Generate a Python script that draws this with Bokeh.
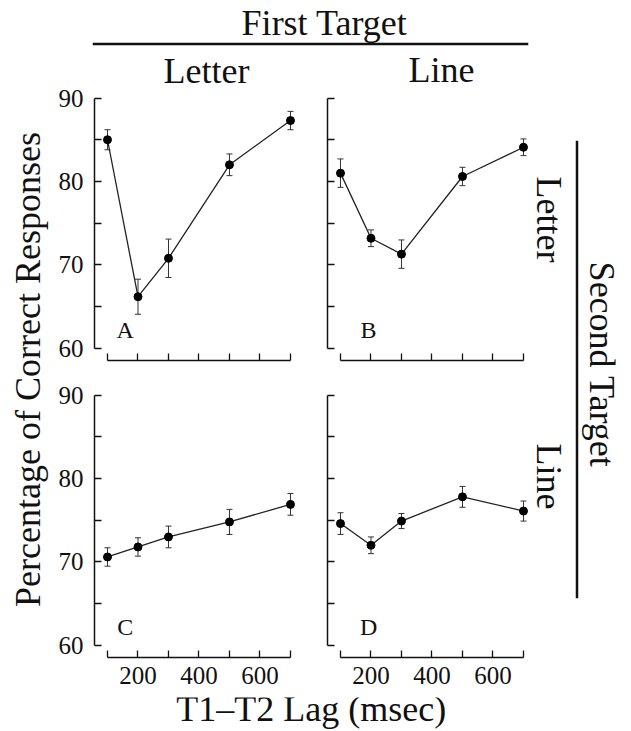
import math
from bokeh.plotting import figure
from bokeh.models import (ColumnDataSource, Whisker, TeeHead, FixedTicker,
                          Range1d, Label, Span, LinearAxis)
from bokeh.layouts import row, column
from bokeh.embed import file_html
from bokeh.resources import INLINE

# ---------------- data ----------------
lags = [100, 200, 300, 500, 700]

# Panel A: first target Letter, second target Letter
a_mean = [85.0, 66.2, 70.8, 82.0, 87.3]
a_err = [1.2, 2.1, 2.3, 1.3, 1.1]
# Panel B: first target Line, second target Letter
b_mean = [81.0, 73.2, 71.3, 80.6, 84.1]
b_err = [1.7, 1.0, 1.7, 1.1, 1.0]
# Panel C: first target Letter, second target Line
c_mean = [70.6, 71.8, 73.0, 74.8, 76.9]
c_err = [1.1, 1.1, 1.3, 1.5, 1.3]
# Panel D: first target Line, second target Line
d_mean = [74.6, 72.0, 74.9, 77.8, 76.1]
d_err = [1.3, 1.0, 0.9, 1.25, 1.2]

y_ticks = [60, 65, 70, 75, 80, 85, 90]
y_tick_labels = {60: "60", 70: "70", 80: "80", 90: "90"}
x_ticks = [100, 200, 300, 400, 500, 600, 700]
x_tick_labels = {200: "200", 400: "400", 600: "600"}

title_top = "First Target"
col_titles = ["Letter", "Line"]
title_right = "Second Target"
row_titles = ["Letter", "Line"]
y_title = "Percentage of Correct Responses"
x_title = "T1\u2013T2 Lag (msec)"
panel_letters = ["A", "B", "C", "D"]

# ---------------- style / layout ----------------
FONT = "Liberation Serif"
INK = "#111111"
BIG = 36
TICK = "25px"
XR = (57.4, 726.3)
YR = (58.56, 90.3)
SHIFT = 0.34  # distance (em) from text middle to baseline


def blank(w, h, xr, yr, bl=0, br=0, bt=0, bb=0):
    p = figure(width=w, height=h, x_range=Range1d(*xr), y_range=Range1d(*yr),
               output_backend="svg", toolbar_location=None,
               x_axis_location=None, y_axis_location=None,
               min_border_left=bl, min_border_right=br,
               min_border_top=bt, min_border_bottom=bb)
    p.xgrid.visible = False
    p.ygrid.visible = False
    p.outline_line_color = None
    p.background_fill_color = "white"
    p.border_fill_color = "white"
    return p


def text(p, x, y, s, fs=BIG, angle=0.0):
    # x, y = baseline position in page pixels (y downward); ranges use -y upward
    d = SHIFT * fs
    if angle == 0:
        y = y - d
    elif angle > 0:
        x = x - d
    else:
        x = x + d
    p.add_layout(Label(x=x, y=-y, text=s, angle=angle, text_align="center",
                       text_baseline="middle", text_font=FONT,
                       text_font_size=f"{fs}px", text_color=INK))


def style_axis(ax, ticks, labels, show, standoff):
    ax.ticker = FixedTicker(ticks=ticks, minor_ticks=[])
    ax.major_label_overrides = {t: (labels.get(t, "") if show else "") for t in ticks}
    ax.major_tick_in = 7
    ax.major_tick_out = 0
    ax.minor_tick_in = 0
    ax.minor_tick_out = 0
    ax.axis_line_width = 1.5
    ax.axis_line_color = INK
    ax.major_tick_line_width = 1.3
    ax.major_tick_line_color = INK
    ax.major_label_text_font = FONT
    ax.major_label_text_color = INK
    if show:
        ax.major_label_text_font_size = TICK
        ax.major_label_standoff = standoff
    else:
        ax.major_label_text_font_size = "1px"
        ax.major_label_standoff = 0


def panel(mean, err, letter, letter_x, show_y, show_x, w, h, bl, bt, bb):
    p = figure(width=w, height=h, x_range=Range1d(*XR), y_range=Range1d(*YR),
               output_backend="svg", toolbar_location=None,
               min_border_left=bl, min_border_right=0,
               min_border_top=bt, min_border_bottom=bb)
    p.grid.visible = False
    p.outline_line_color = None
    src = ColumnDataSource(dict(
        lag=lags, mean=mean,
        upper=[m + e for m, e in zip(mean, err)],
        lower=[m - e for m, e in zip(mean, err)]))
    p.add_layout(Whisker(source=src, base="lag", upper="upper", lower="lower",
                         line_color="#333333", line_width=1,
                         upper_head=TeeHead(size=6, line_color="#333333", line_width=1),
                         lower_head=TeeHead(size=6, line_color="#333333", line_width=1)))
    p.line("lag", "mean", source=src, line_color="#222222", line_width=1.3)
    p.scatter("lag", "mean", source=src, marker="circle", size=8,
              fill_color="black", line_color="black")
    style_axis(p.yaxis[0], y_ticks, y_tick_labels, show_y, 11)
    p.yaxis.bounds = (60, 90)
    style_axis(p.xaxis[0], x_ticks, x_tick_labels, show_x, 9)
    p.xaxis.bounds = (100, 700)
    # panel letter: baseline at 61.25, middle of text 0.34 em (24px) higher
    p.add_layout(Label(x=letter_x, y=61.25 + SHIFT * 24 / 8.36, text=letter,
                       text_align="center", text_baseline="middle",
                       text_font=FONT, text_font_size="24px", text_color=INK))
    return p


pA = panel(a_mean, a_err, panel_letters[0], 158, True, False, 244, 280, 40, 7, 8)
pB = panel(b_mean, b_err, panel_letters[1], 192, False, False, 233, 280, 29, 7, 8)
pC = panel(c_mean, c_err, panel_letters[2], 158, True, True, 244, 329, 40, 24, 40)
pD = panel(d_mean, d_err, panel_letters[3], 192, False, True, 233, 329, 29, 24, 40)

# header (page x 0..623, y 0..88); frame spans the rule's width
hdr = blank(623, 88, (92, 528), (-88, 0), bl=92, br=95)
hdr.add_layout(Span(location=-43.5, dimension="width", line_color=INK, line_width=2.5))
text(hdr, 324, 35, title_top)
text(hdr, 206, 83, col_titles[0])
text(hdr, 441, 82, col_titles[1])

# y title as an axis label (page x 0..54, y 88..697)
ylab = figure(width=54, height=609, output_backend="svg", toolbar_location=None,
              x_range=Range1d(0, 1), y_range=Range1d(0, 1),
              x_axis_location=None, y_axis_location=None,
              min_border_left=47, min_border_right=0,
              min_border_top=0, min_border_bottom=51)
ylab.xgrid.visible = False
ylab.ygrid.visible = False
ylab.outline_line_color = None
yax = LinearAxis(ticker=FixedTicker(ticks=[]), axis_label=y_title,
                 axis_line_color=None, major_tick_line_color=None,
                 minor_tick_line_color=None, major_label_text_font_size="1px",
                 major_label_standoff=0, axis_label_standoff=0,
                 axis_label_text_font=FONT, axis_label_text_font_size=f"{BIG}px",
                 axis_label_text_font_style="normal", axis_label_text_color=INK)
ylab.add_layout(yax, "left")

# right side (page x 531..623, y 88..697); frame spans the rule's height
rgt = blank(92, 609, (531, 623), (-598, -140), bt=52, bb=99)
rgt.add_layout(Span(location=576.5, dimension="height", line_color=INK, line_width=2.5))
text(rgt, 536, 219, row_titles[0], angle=-math.pi / 2)
text(rgt, 536, 476, row_titles[1], angle=-math.pi / 2)
text(rgt, 589, 364, title_right, angle=-math.pi / 2)

# x title (page y 697..731)
xlab = blank(623, 34, (0, 623), (-731, -697))
text(xlab, 312.5, 721, x_title)

grid = column(row(pA, pB, spacing=0), row(pC, pD, spacing=0), spacing=0)
middle = row(ylab, grid, rgt, spacing=0)
layout = column(hdr, middle, xlab, spacing=0)

open("out.html", "w").write(file_html(layout, INLINE))
